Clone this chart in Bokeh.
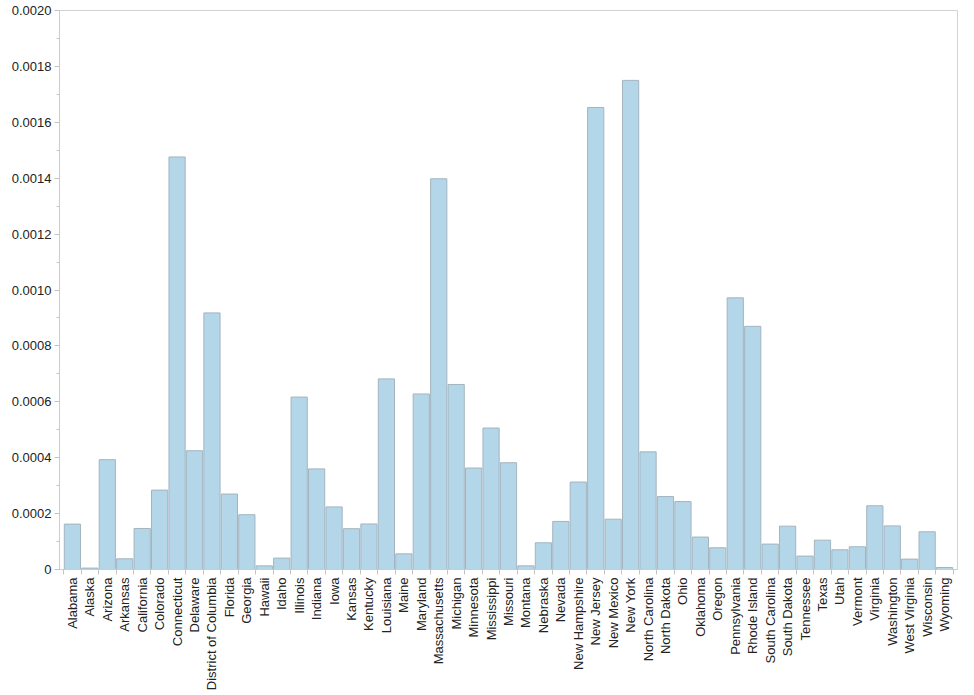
import math
from bokeh.plotting import figure
from bokeh.models import Range1d, FixedTicker, SingleIntervalTicker, CustomJSTickFormatter
from bokeh.embed import file_html
from bokeh.resources import INLINE

states = ["Alabama", "Alaska", "Arizona", "Arkansas", "California", "Colorado",
          "Connecticut", "Delaware", "District of Columbia", "Florida", "Georgia",
          "Hawaii", "Idaho", "Illinois", "Indiana", "Iowa", "Kansas", "Kentucky",
          "Louisiana", "Maine", "Maryland", "Massachusetts", "Michigan", "Minnesota",
          "Mississippi", "Missouri", "Montana", "Nebraska", "Nevada", "New Hampshire",
          "New Jersey", "New Mexico", "New York", "North Carolina", "North Dakota",
          "Ohio", "Oklahoma", "Oregon", "Pennsylvania", "Rhode Island",
          "South Carolina", "South Dakota", "Tennessee", "Texas", "Utah", "Vermont",
          "Virginia", "Washington", "West Virginia", "Wisconsin", "Wyoming"]

values = [0.0001625, 0.000005, 0.000393, 0.0000383, 0.0001468, 0.000284,
          0.001476, 0.000425, 0.000918, 0.00027, 0.000196,
          0.000013, 0.0000408, 0.000617, 0.00036, 0.000224, 0.000146, 0.000163,
          0.000682, 0.000056, 0.000628, 0.001398, 0.000662, 0.000363,
          0.000506, 0.000382, 0.000013, 0.0000956, 0.000172, 0.000313,
          0.001653, 0.00018, 0.00175, 0.000421, 0.000261,
          0.000243, 0.000116, 0.0000777, 0.000972, 0.00087,
          0.0000909, 0.000155, 0.000048, 0.000105, 0.0000705, 0.0000813,
          0.000228, 0.000156, 0.0000372, 0.000135, 0.0000072]

y_ticks_interval = 0.0002
y_max = 0.0020

n = len(states)
xs = list(range(n))
pad = 0.24

p = figure(output_backend="svg", toolbar_location=None,
           frame_width=898, frame_height=559,
           min_border_left=59, min_border_top=10, min_border_right=16, min_border_bottom=0,
           x_range=Range1d(-0.5 - pad, n - 0.5 + pad),
           y_range=Range1d(0, y_max))

p.vbar(x=xs, top=values, width=0.93, bottom=0,
       fill_color="#b3d6e8", line_color="#a4b4bf", line_width=1)

p.xgrid.visible = False
p.ygrid.visible = False
p.outline_line_color = "#d2d2d2"
p.outline_line_width = 1
p.background_fill_color = "white"
p.border_fill_color = "white"

xa = p.xaxis[0]
xa.ticker = FixedTicker(ticks=xs, minor_ticks=[i - 0.5 for i in range(n + 1)])
xa.major_label_overrides = {i: s for i, s in enumerate(states)}
xa.major_label_orientation = math.pi / 2
xa.major_tick_line_color = None
xa.major_tick_out = 5
xa.major_tick_in = 0
xa.minor_tick_out = 5
xa.minor_tick_in = 0
xa.minor_tick_line_color = "#c4c4c4"
xa.axis_line_color = "#cccccc"
xa.major_label_standoff = 3
xa.major_label_text_font = "Liberation Sans"
xa.major_label_text_font_size = "13px"
xa.major_label_text_color = "#222222"

ya = p.yaxis[0]
ya.ticker = SingleIntervalTicker(interval=y_ticks_interval, num_minor_ticks=2)
ya.formatter = CustomJSTickFormatter(code="return Math.abs(tick) < 1e-12 ? '0' : tick.toFixed(4);")
ya.major_tick_out = 5
ya.major_tick_in = 0
ya.minor_tick_out = 3
ya.minor_tick_in = 0
ya.major_tick_line_color = "#c4c4c4"
ya.minor_tick_line_color = "#c4c4c4"
ya.axis_line_color = "#cccccc"
ya.major_label_standoff = 3
ya.major_label_text_font = "Liberation Sans"
ya.major_label_text_font_size = "13px"
ya.major_label_text_color = "#222222"

open("out.html", "w").write(file_html(p, INLINE))
